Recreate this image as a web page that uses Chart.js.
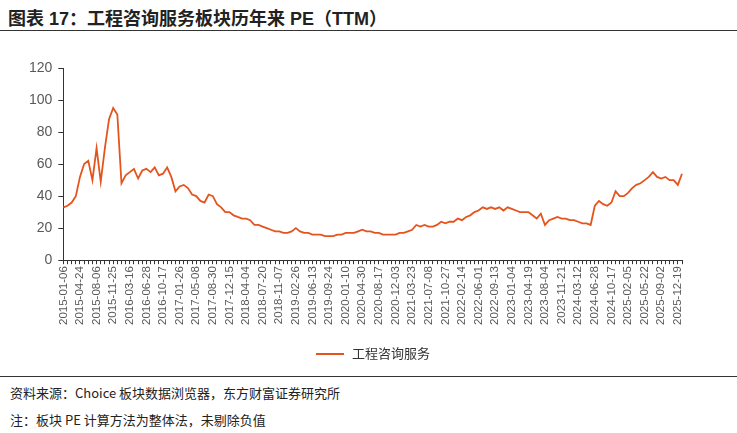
<!DOCTYPE html>
<html><head><meta charset="utf-8">
<script src="https://cdn.jsdelivr.net/npm/chart.js@4"></script>
<style>
body{margin:0;width:737px;height:433px;background:#fff;position:relative;overflow:hidden;font-family:"Liberation Sans","Noto Sans CJK SC",sans-serif;}
#title{position:absolute;left:8px;top:4px;font-size:18px;font-weight:bold;color:#222;font-family:"Liberation Sans","Noto Sans CJK SC";}
#tline{position:absolute;left:0;top:30px;width:737px;height:1px;background:#333;}
#fline{position:absolute;left:0;top:376px;width:737px;height:1px;background:#333;}
.foot{position:absolute;left:10px;font-size:13px;color:#222;font-family:"Noto Sans CJK SC";}
#wrap{position:absolute;left:0;top:40px;width:737px;height:332px;}
#leg{position:absolute;left:316px;top:343px;font-size:13px;color:#333;font-family:"Noto Sans CJK SC";}
#leg span{display:inline-block;width:28px;height:2px;background:#E5541C;vertical-align:middle;margin-right:8px;}
</style></head><body>
<div id="title">图表 17：工程咨询服务板块历年来 PE（TTM）</div>
<div id="tline"></div>
<div id="wrap"><canvas id="c"></canvas></div>
<div id="leg"><span></span><b style="font-weight:normal" id="legtxt"></b></div>
<div id="fline"></div>
<div class="foot" style="top:383px">资料来源：Choice 板块数据浏览器，东方财富证券研究所</div>
<div class="foot" style="top:410px">注：板块 PE 计算方法为整体法，未剔除负值</div>
<script>
const tickLabels=["2015-01-06","2015-04-24","2015-08-06","2015-11-25","2016-03-16","2016-06-28","2016-10-17","2017-01-26","2017-05-08","2017-08-30","2017-12-15","2018-04-04","2018-07-20","2018-11-07","2019-02-26","2019-06-13","2019-09-24","2020-01-10","2020-04-30","2020-08-17","2020-12-03","2021-03-23","2021-07-08","2021-10-27","2022-02-14","2022-06-01","2022-09-13","2023-01-04","2023-04-19","2023-08-04","2023-11-21","2024-03-12","2024-06-28","2024-10-17","2025-02-05","2025-05-22","2025-09-02","2025-12-19"];
const seriesName="工程咨询服务";
const peValues=[33,34,36,40,52,60,62,50,70,49,70,88,95,91,48,53,55,57,51,56,57,55,58,53,54,58,52,43,46,47,45,41,40,37,36,41,40,35,33,30,30,28,27,26,26,25,22,22,
21,20,19,18,18,17,17,18,20,18,17,17,16,16,16,15,15,15,16,16,17,17,17,18,19,18,18,17,17,16,16,16,16,17,17,18,19,22,21,22,21,21,22,24,23,24,24,26,25,27,28,30,31,33,32,33,32,33,31,33,32,31,30,30,30,28,26,29,22,25,26,27,26,26,25,25,24,23,23,22,34,37,35,34,36,43,40,40,42,45,47,48,50,52,55,52,51,52,50,50,47,54];
document.getElementById("legtxt").textContent=seriesName;
const labels=peValues.map((v,i)=>i%4===0&&tickLabels[i/4]?tickLabels[i/4]:"");
new Chart(document.getElementById("c"),{type:"line",
data:{labels:labels,datasets:[{label:seriesName,data:peValues,borderColor:"#E5541C",backgroundColor:"#E5541C",borderWidth:1.8,pointRadius:0,tension:0}]},
options:{animation:false,responsive:true,maintainAspectRatio:false,
layout:{padding:{top:28,right:55,left:23,bottom:45}},
plugins:{legend:{display:false},tooltip:{enabled:false}},
scales:{
y:{min:0,max:120,ticks:{stepSize:20,color:"#595959",font:{size:14,family:"Liberation Sans"},padding:6},grid:{drawOnChartArea:false,tickLength:5,color:"#333"},border:{color:"#333"}},
x:{ticks:{autoSkip:false,maxRotation:90,minRotation:90,color:"#595959",font:{size:11.5,family:"Liberation Sans"},padding:2},grid:{drawOnChartArea:false,tickLength:4,color:"#333"},border:{color:"#333"}}
}}});
</script></body></html>
